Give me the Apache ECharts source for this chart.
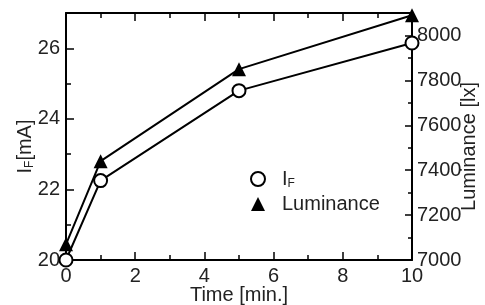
<!DOCTYPE html>
<html><head><meta charset="utf-8">
<script src="https://cdn.jsdelivr.net/npm/echarts@6/dist/echarts.min.js"></script>
<style>html,body{margin:0;padding:0;background:#fff}#c{width:485px;height:305px}</style>
</head><body><div id="c"></div>
<script>
const timeMin = [0, 1, 5, 10];
const ifValues = [20.0, 22.25, 24.8, 26.15];
const luminanceValues = [7070, 7440, 7850, 8090];
const xTicks = [0, 2, 4, 6, 8, 10];
const ifTicks = [20, 22, 24, 26];
const lumTicks = [7000, 7200, 7400, 7600, 7800, 8000];

const FONT = 'Liberation Sans';
const FS = 20;
const TXT = '#222';
const chart = echarts.init(document.getElementById('c'), null, {renderer: 'canvas'});
const axisLine = {show: true, onZero: false, lineStyle: {color: '#000', width: 2}};
const xAxisBase = {
  type: 'value', min: 0, max: 10, interval: 2,
  axisLine: axisLine, splitLine: {show: false},
  axisTick: {inside: true, length: 8, lineStyle: {color: '#000', width: 1.5}},
  minorTick: {show: true, splitNumber: 2, length: 5, lineStyle: {color: '#000', width: 1.5}},
  minorSplitLine: {show: false}
};
const richSub = {
  a: {fontFamily: FONT, fontSize: FS, color: TXT},
  b: {fontFamily: FONT, fontSize: 12, color: TXT, verticalAlign: 'bottom', padding: [10, 0, 0, 0]}
};
chart.setOption({
  animation: false,
  grid: {left: 66, right: 73, top: 13, bottom: 45, containLabel: false, outerBoundsMode: 'none'},
  legend: {
    orient: 'vertical', left: 245, top: 164, itemGap: 4,
    itemWidth: 14, itemHeight: 14,
    data: [{name: 'IF', icon: 'circle'}, {name: 'Luminance', icon: 'triangle'}],
    formatter: n => n === 'IF' ? '{a|I}{b|F}' : n,
    textStyle: {fontFamily: FONT, fontSize: FS, color: TXT, padding: [0, 0, 0, 12], rich: richSub}
  },
  xAxis: [
    Object.assign({}, xAxisBase, {
      position: 'bottom',
      axisLabel: {fontFamily: FONT, fontSize: FS, color: TXT, margin: 6,
        formatter: v => xTicks.includes(v) ? String(v) : ''},
      name: 'Time [min.]', nameLocation: 'middle', nameGap: 25, nameMoveOverlap: false,
      nameTextStyle: {fontFamily: FONT, fontSize: FS, color: TXT}
    }),
    Object.assign({}, xAxisBase, {position: 'top', axisLabel: {show: false}})
  ],
  yAxis: [
    {
      type: 'value', position: 'left', min: 20, max: 27, interval: 1,
      axisLine: axisLine, splitLine: {show: false},
      axisTick: {inside: true, length: 5, lineStyle: {color: '#000', width: 1.5}},
      axisLabel: {fontFamily: FONT, fontSize: FS, color: TXT, margin: 6,
        formatter: v => ifTicks.includes(v) ? String(v) : ''},
      name: '{a|I}{b|F}{a|[mA]}', nameLocation: 'middle', nameGap: 30, nameRotate: 90, nameMoveOverlap: false,
      nameTextStyle: {fontFamily: FONT, fontSize: FS, color: TXT, padding: [0, 20, 0, 0], rich: richSub}
    },
    {
      type: 'value', position: 'right', min: 7000, max: 8100, interval: 100,
      axisLine: axisLine, splitLine: {show: false},
      axisTick: {inside: true, length: 4, lineStyle: {color: '#000', width: 1.5}},
      axisLabel: {fontFamily: FONT, fontSize: FS, color: TXT, margin: 5,
        formatter: v => lumTicks.includes(v) ? String(v) : ''},
      name: 'Luminance [lx]', nameLocation: 'middle', nameGap: 47, nameRotate: 90, nameMoveOverlap: false,
      nameTextStyle: {fontFamily: FONT, fontSize: FS, color: TXT, padding: [0, 20, 0, 0]}
    },
    {
      type: 'value', position: 'left', min: 20, max: 27, interval: 2,
      axisLine: {show: false, onZero: false}, splitLine: {show: false}, axisLabel: {show: false},
      axisTick: {inside: true, length: 8, lineStyle: {color: '#000', width: 1.5}}
    },
    {
      type: 'value', position: 'right', min: 7000, max: 8100, interval: 200,
      axisLine: {show: false, onZero: false}, splitLine: {show: false}, axisLabel: {show: false},
      axisTick: {inside: true, length: 7, lineStyle: {color: '#000', width: 1.5}}
    }
  ],
  series: [
    {
      name: 'IF', type: 'line', xAxisIndex: 0, yAxisIndex: 0,
      data: timeMin.map((t, i) => [t, ifValues[i]]),
      symbol: 'circle', symbolSize: 13, z: 5,
      lineStyle: {color: '#000', width: 2},
      itemStyle: {color: '#fff', borderColor: '#000', borderWidth: 2}
    },
    {
      name: 'Luminance', type: 'line', xAxisIndex: 0, yAxisIndex: 1,
      data: timeMin.map((t, i) => [t, luminanceValues[i]]),
      symbol: 'triangle', symbolSize: 14, z: 4,
      lineStyle: {color: '#000', width: 2},
      itemStyle: {color: '#000'}
    }
  ]
});
</script></body></html>
